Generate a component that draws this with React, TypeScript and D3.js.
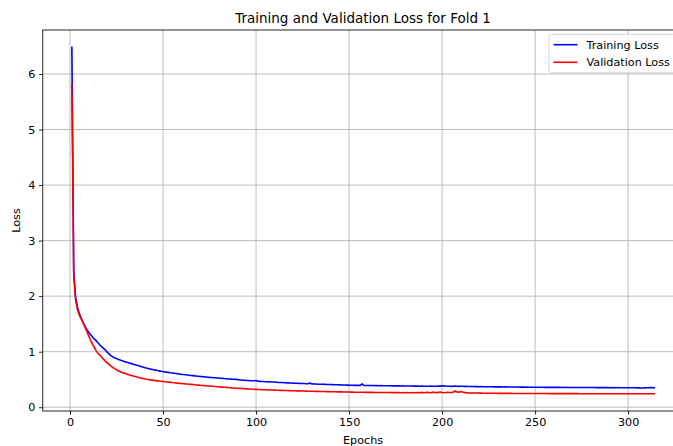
import React, { useEffect, useRef } from 'react';
import * as d3 from 'd3';

// Loss values per epoch (epoch = index + 1)
const trainLoss: number[] = [
  6.48, 2.45, 1.98, 1.80, 1.69, 1.60, 1.53, 1.46, 1.40, 1.35,
  1.31, 1.27, 1.23, 1.20, 1.16, 1.12, 1.09, 1.06, 1.03, 0.99,
  0.96, 0.93, 0.905, 0.89, 0.875, 0.86, 0.85, 0.835, 0.825, 0.815,
  0.805, 0.795, 0.785, 0.775, 0.765, 0.755, 0.745, 0.735, 0.725, 0.715,
  0.706, 0.698, 0.69, 0.682, 0.675, 0.668, 0.66, 0.655, 0.648, 0.642,
  0.637, 0.631, 0.627, 0.620, 0.616, 0.611, 0.606, 0.601, 0.598, 0.592,
  0.588, 0.584, 0.580, 0.576, 0.572, 0.569, 0.565, 0.561, 0.558, 0.554,
  0.551, 0.548, 0.545, 0.541, 0.538, 0.536, 0.532, 0.530, 0.527, 0.524,
  0.522, 0.519, 0.516, 0.514, 0.511, 0.509, 0.506, 0.504, 0.502, 0.499,
  0.492, 0.490, 0.487, 0.485, 0.482, 0.480, 0.478, 0.476, 0.478, 0.481,
  0.468, 0.466, 0.464, 0.462, 0.460, 0.458, 0.456, 0.455, 0.453, 0.455,
  0.449, 0.447, 0.446, 0.444, 0.442, 0.441, 0.439, 0.437, 0.436, 0.434,
  0.433, 0.431, 0.430, 0.428, 0.427, 0.426, 0.424, 0.423, 0.436, 0.420,
  0.419, 0.418, 0.416, 0.415, 0.414, 0.413, 0.412, 0.410, 0.409, 0.408,
  0.407, 0.406, 0.405, 0.404, 0.403, 0.401, 0.400, 0.399, 0.398, 0.397,
  0.396, 0.395, 0.394, 0.395, 0.393, 0.394, 0.422, 0.393, 0.392, 0.391,
  0.392, 0.390, 0.391, 0.389, 0.390, 0.388, 0.389, 0.387, 0.388, 0.386,
  0.387, 0.386, 0.385, 0.386, 0.384, 0.385, 0.384, 0.383, 0.384, 0.382,
  0.383, 0.382, 0.381, 0.382, 0.380, 0.381, 0.380, 0.379, 0.380, 0.379,
  0.378, 0.379, 0.378, 0.380, 0.378, 0.377, 0.379, 0.382, 0.380, 0.384,
  0.386, 0.382, 0.379, 0.377, 0.376, 0.378, 0.380, 0.377, 0.376, 0.378,
  0.377, 0.375, 0.376, 0.374, 0.373, 0.372, 0.373, 0.371, 0.372, 0.370,
  0.371, 0.370, 0.369, 0.370, 0.368, 0.369, 0.368, 0.367, 0.368, 0.366,
  0.367, 0.366, 0.365, 0.366, 0.365, 0.364, 0.365, 0.364, 0.363, 0.364,
  0.363, 0.362, 0.363, 0.362, 0.361, 0.362, 0.361, 0.360, 0.361, 0.360,
  0.360, 0.359, 0.360, 0.359, 0.358, 0.359, 0.358, 0.359, 0.357, 0.358,
  0.357, 0.358, 0.357, 0.356, 0.357, 0.356, 0.357, 0.356, 0.355, 0.356,
  0.355, 0.356, 0.355, 0.356, 0.355, 0.354, 0.355, 0.354, 0.355, 0.354,
  0.355, 0.354, 0.353, 0.354, 0.353, 0.354, 0.353, 0.354, 0.353, 0.352,
  0.353, 0.352, 0.353, 0.352, 0.353, 0.352, 0.351, 0.352, 0.351, 0.352,
  0.351, 0.352, 0.351, 0.350, 0.349, 0.348, 0.347, 0.346, 0.348, 0.350,
  0.352, 0.353, 0.353, 0.352
];

const valLoss: number[] = [
  5.82, 2.35, 1.93, 1.76, 1.66, 1.59, 1.52, 1.45, 1.37, 1.29,
  1.21, 1.14, 1.08, 1.02, 0.97, 0.94, 0.90, 0.865, 0.83, 0.80,
  0.77, 0.74, 0.715, 0.695, 0.675, 0.655, 0.64, 0.625, 0.614, 0.603,
  0.592, 0.581, 0.571, 0.561, 0.552, 0.543, 0.535, 0.527, 0.519, 0.512,
  0.505, 0.499, 0.493, 0.488, 0.483, 0.479, 0.475, 0.471, 0.467, 0.463,
  0.459, 0.455, 0.452, 0.448, 0.444, 0.441, 0.437, 0.434, 0.430, 0.427,
  0.424, 0.420, 0.417, 0.414, 0.411, 0.408, 0.405, 0.401, 0.398, 0.395,
  0.392, 0.389, 0.386, 0.383, 0.381, 0.378, 0.379, 0.373, 0.370, 0.367,
  0.364, 0.362, 0.359, 0.357, 0.354, 0.352, 0.349, 0.347, 0.344, 0.342,
  0.340, 0.337, 0.335, 0.333, 0.331, 0.329, 0.327, 0.325, 0.323, 0.321,
  0.319, 0.318, 0.316, 0.315, 0.314, 0.312, 0.311, 0.310, 0.309, 0.308,
  0.306, 0.305, 0.304, 0.303, 0.302, 0.301, 0.300, 0.299, 0.298, 0.297,
  0.296, 0.295, 0.294, 0.293, 0.292, 0.291, 0.290, 0.289, 0.288, 0.288,
  0.287, 0.286, 0.285, 0.284, 0.284, 0.283, 0.282, 0.281, 0.281, 0.280,
  0.279, 0.278, 0.278, 0.277, 0.276, 0.276, 0.275, 0.274, 0.274, 0.273,
  0.272, 0.272, 0.271, 0.271, 0.270, 0.270, 0.269, 0.269, 0.268, 0.268,
  0.268, 0.267, 0.267, 0.266, 0.266, 0.266, 0.265, 0.265, 0.266, 0.264,
  0.264, 0.265, 0.263, 0.264, 0.263, 0.266, 0.263, 0.262, 0.263, 0.262,
  0.264, 0.262, 0.261, 0.266, 0.262, 0.261, 0.263, 0.261, 0.268, 0.262,
  0.264, 0.270, 0.265, 0.262, 0.272, 0.266, 0.263, 0.268, 0.273, 0.266,
  0.262, 0.264, 0.270, 0.265, 0.260, 0.275, 0.292, 0.276, 0.270, 0.283,
  0.275, 0.268, 0.262, 0.258, 0.257, 0.256, 0.256, 0.255, 0.255, 0.254,
  0.254, 0.253, 0.253, 0.253, 0.252, 0.252, 0.251, 0.251, 0.251, 0.250,
  0.250, 0.250, 0.250, 0.249, 0.249, 0.249, 0.249, 0.248, 0.248, 0.248,
  0.248, 0.248, 0.247, 0.247, 0.247, 0.247, 0.247, 0.247, 0.246, 0.246,
  0.246, 0.246, 0.246, 0.246, 0.246, 0.246, 0.245, 0.245, 0.245, 0.245,
  0.245, 0.245, 0.245, 0.245, 0.245, 0.245, 0.245, 0.245, 0.245, 0.245,
  0.245, 0.245, 0.245, 0.244, 0.244, 0.244, 0.244, 0.244, 0.244, 0.244,
  0.244, 0.244, 0.244, 0.244, 0.244, 0.244, 0.244, 0.244, 0.244, 0.244,
  0.244, 0.244, 0.244, 0.244, 0.244, 0.244, 0.244, 0.244, 0.244, 0.244,
  0.244, 0.244, 0.244, 0.244, 0.244, 0.244, 0.244, 0.244, 0.244, 0.244,
  0.244, 0.244, 0.244, 0.244
];

const xTicks = [0, 50, 100, 150, 200, 250, 300];
const yTicks = [0, 1, 2, 3, 4, 5, 6];
const seriesNames = ['Training Loss', 'Validation Loss'];
const seriesColors = ['#0000ff', '#ff0000'];

const WIDTH = 673;
const HEIGHT = 446;
const FONT = '"DejaVu Sans", sans-serif';
const FS = 11.2;

export default function App() {
  const ref = useRef<SVGSVGElement>(null);

  useEffect(() => {
    const svg = d3.select(ref.current);
    svg.selectAll('*').remove();

    const left = 42.75, right = 683.3, top = 30, bottom = 411;

    const series = [trainLoss, valLoss].map((vals, i) => ({
      name: seriesNames[i],
      color: seriesColors[i],
      points: vals.map((v, j) => ({ epoch: j + 1, loss: v }))
    }));
    const all = series.flatMap(s => s.points);

    // matplotlib-like 5% margins
    const [x0, x1] = d3.extent(all, d => d.epoch) as [number, number];
    const [y0, y1] = d3.extent(all, d => d.loss) as [number, number];
    const xPad = (x1 - x0) * 0.05, yPad = (y1 - y0) * 0.05;

    const x = d3.scaleLinear().domain([x0 - xPad, x1 + xPad]).range([left, right]);
    const y = d3.scaleLinear().domain([y0 - yPad, y1 + yPad]).range([bottom, top]);

    // grid
    const grid = svg.append('g');
    grid.selectAll('.gx').data(xTicks).enter().append('line')
      .attr('x1', d => x(d)).attr('x2', d => x(d))
      .attr('y1', top).attr('y2', bottom)
      .attr('stroke', '#b0b0b0').attr('stroke-width', 0.85);
    grid.selectAll('.gy').data(yTicks).enter().append('line')
      .attr('x1', left).attr('x2', right)
      .attr('y1', d => y(d)).attr('y2', d => y(d))
      .attr('stroke', '#b0b0b0').attr('stroke-width', 0.85);

    // lines
    const line = d3.line<{ epoch: number; loss: number }>()
      .x(d => x(d.epoch))
      .y(d => y(d.loss));

    series.forEach(s => {
      svg.append('path')
        .datum(s.points)
        .attr('fill', 'none')
        .attr('stroke', s.color)
        .attr('stroke-width', 1.6)
        .attr('stroke-linejoin', 'round')
        .attr('stroke-linecap', 'square')
        .attr('d', line);
    });

    // spines
    svg.append('rect')
      .attr('x', left).attr('y', top)
      .attr('width', right - left).attr('height', bottom - top)
      .attr('fill', 'none').attr('stroke', '#000').attr('stroke-width', 0.85);

    // axes
    const xAxis = svg.append('g')
      .attr('transform', `translate(0,${bottom})`)
      .call(d3.axisBottom(x).tickValues(xTicks).tickFormat(d3.format('d'))
        .tickSizeOuter(0).tickSize(3.7).tickPadding(3.7));
    const yAxis = svg.append('g')
      .attr('transform', `translate(${left},0)`)
      .call(d3.axisLeft(y).tickValues(yTicks).tickFormat(d3.format('d'))
        .tickSizeOuter(0).tickSize(3.7).tickPadding(3.7));

    [xAxis, yAxis].forEach(a => {
      a.select('.domain').remove();
      a.selectAll('line').attr('stroke', '#000').attr('stroke-width', 0.85);
      a.selectAll('text')
        .attr('fill', '#000')
        .style('font-family', FONT)
        .style('font-size', `${FS}px`);
    });

    // labels
    svg.append('text')
      .attr('x', (left + right) / 2).attr('y', 23)
      .attr('text-anchor', 'middle')
      .style('font-family', FONT).style('font-size', '13.5px')
      .text('Training and Validation Loss for Fold 1');

    svg.append('text')
      .attr('x', (left + right) / 2).attr('y', 444)
      .attr('text-anchor', 'middle')
      .style('font-family', FONT).style('font-size', `${FS}px`)
      .text('Epochs');

    svg.append('text')
      .attr('transform', `translate(19.5,${(top + bottom) / 2}) rotate(-90)`)
      .attr('text-anchor', 'middle')
      .style('font-family', FONT).style('font-size', `${FS}px`)
      .text('Loss');

    // legend (upper right)
    const lg = svg.append('g');
    const frame = lg.append('rect');
    const texts = series.map((s, i) => {
      const rowY = 44.7 + i * 17.6;
      lg.append('line')
        .attr('x1', 553.5).attr('x2', 577.5)
        .attr('y1', rowY).attr('y2', rowY)
        .attr('stroke', s.color).attr('stroke-width', 1.6);
      return lg.append('text')
        .attr('x', 586.5).attr('y', rowY)
        .attr('dy', '0.36em')
        .style('font-family', FONT).style('font-size', `${FS}px`)
        .text(s.name);
    });
    const tw = d3.max(texts, t => (t.node() as SVGTextElement).getComputedTextLength()) || 80;
    frame
      .attr('x', 549).attr('y', 34.3)
      .attr('width', 586.5 + tw + 5 - 549).attr('height', 38.4)
      .attr('rx', 2.5)
      .attr('fill', 'rgba(255,255,255,0.8)')
      .attr('stroke', '#cccccc').attr('stroke-width', 0.85);
  }, []);

  return (
    <svg
      ref={ref}
      width={WIDTH}
      height={HEIGHT}
      style={{ position: 'absolute', left: 0, top: 0, background: '#fff' }}
    />
  );
}
